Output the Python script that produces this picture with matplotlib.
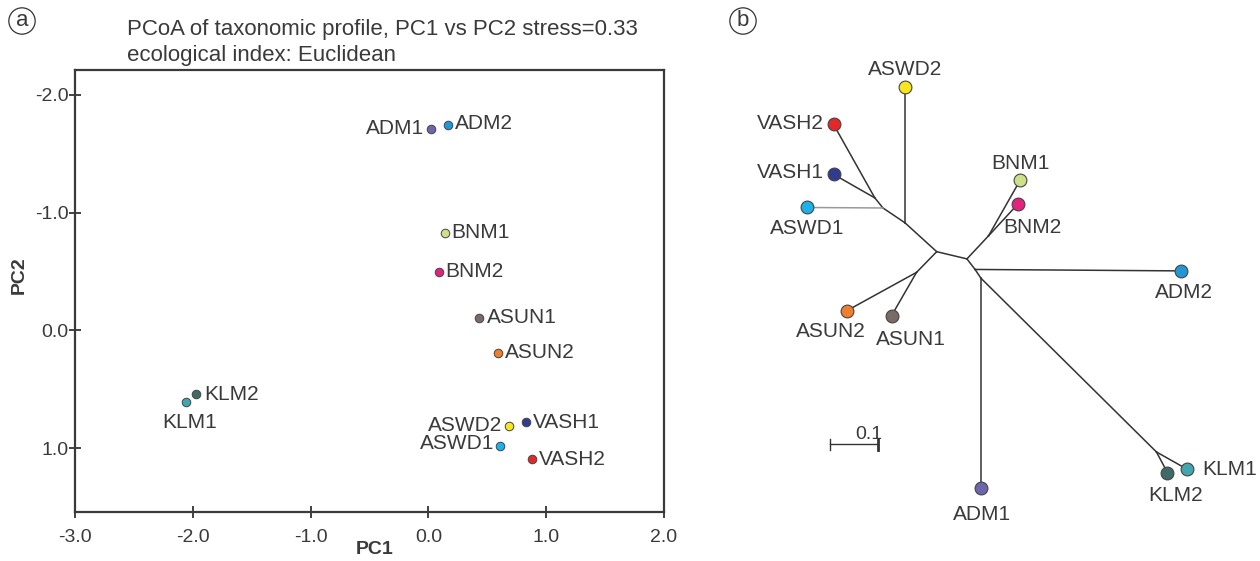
import matplotlib
matplotlib.use('Agg')
import matplotlib.pyplot as plt

plt.rcParams['font.family'] = ['Liberation Sans', 'DejaVu Sans']

# --- panel a: PCoA scores ---
samples = ['ADM1', 'ADM2', 'BNM1', 'BNM2', 'ASUN1', 'ASUN2',
           'KLM2', 'KLM1', 'ASWD2', 'VASH1', 'ASWD1', 'VASH2']
pc1 = [0.02, 0.17, 0.14, 0.09, 0.43, 0.59, -1.97, -2.06, 0.68, 0.83, 0.61, 0.88]
pc2 = [-1.71, -1.74, -0.83, -0.50, -0.11, 0.19, 0.54, 0.61, 0.81, 0.78, 0.98, 1.09]
x_ticks = [-3.0, -2.0, -1.0, 0.0, 1.0, 2.0]
y_ticks = [-2.0, -1.0, 0.0, 1.0]

colors = {
    'ADM1': '#6e66ad', 'ADM2': '#1f98d5', 'BNM1': '#cfe08a', 'BNM2': '#e2227f',
    'ASUN1': '#7b6b66', 'ASUN2': '#f07f2c', 'KLM2': '#3f6b67', 'KLM1': '#41a6ad',
    'ASWD2': '#f7e61c', 'VASH1': '#323c8e', 'ASWD1': '#1cb1e8', 'VASH2': '#e3282c',
}

# label placement (offset in pixels, alignment)
pcoa_lab = {
    'ADM1': (-7, 0, 'right'), 'ADM2': (7, 2, 'left'), 'BNM1': (6, 0, 'left'),
    'BNM2': (6, 0, 'left'), 'ASUN1': (8, 0, 'left'), 'ASUN2': (7, 0, 'left'),
    'KLM2': (8, 0, 'left'), 'KLM1': (4, -20, 'center'), 'ASWD2': (-6, 0, 'right'),
    'VASH1': (7, 0, 'left'), 'ASWD1': (-6, 2, 'right'), 'VASH2': (7, -1, 'left'),
}

# --- panel b: unrooted tree (branch-length units) ---
node_names = ['n1', 'n2', 'n3', 'n4', 'n5', 'n6', 'n7', 'n8', 'n9', 'n10',
              'ASWD2', 'VASH2', 'VASH1', 'ASWD1', 'ASUN2', 'ASUN1',
              'BNM1', 'BNM2', 'ADM2', 'ADM1', 'KLM2', 'KLM1']
node_x = [0.0, 0.063, -0.066, -0.112, -0.129, -0.042, 0.108, 0.080, 0.092, 0.458,
          -0.066, -0.215, -0.215, -0.271, -0.1875, -0.094,
          0.174, 0.169, 0.509, 0.092, 0.481, 0.522]
node_y = [0.0, -0.015, 0.060, 0.091, 0.112, -0.043, 0.033, -0.037, -0.055, -0.417,
          0.343, 0.265, 0.161, 0.092, -0.123, -0.133,
          0.149, 0.099, -0.040, -0.493, -0.460, -0.453]
node_parent = [None, 'n1', 'n1', 'n3', 'n4', 'n1', 'n2', 'n2', 'n8', 'n9',
               'n3', 'n5', 'n5', 'n4', 'n6', 'n6',
               'n7', 'n7', 'n8', 'n9', 'n10', 'n10']
scale_len = 0.1

tree_lab = {
    'ASWD2': (0, 17, 'center'), 'VASH2': (-10, 1, 'right'), 'VASH1': (-10, 2, 'right'),
    'ASWD1': (0, -21, 'center'), 'BNM1': (0, 17, 'center'), 'BNM2': (15, -23, 'center'),
    'ADM2': (3, -22, 'center'), 'ASUN2': (-16, -21, 'center'), 'ASUN1': (19, -24, 'center'),
    'ADM1': (1, -26, 'center'), 'KLM2': (8, -23, 'center'), 'KLM1': (15, 0, 'left'),
}

txt = '#3a3a3a'
fs = 15
fig = plt.figure(figsize=(12.6, 5.61), dpi=100)

# panel a
ax = fig.add_axes([75 / 1260, 1 - 512 / 561, 589 / 1260, 442 / 561])
for name, x, y in zip(samples, pc1, pc2):
    ax.scatter(x, y, s=38, color=colors[name], edgecolor='#444444', linewidth=0.7, zorder=3)
    dx, dy, ha = pcoa_lab[name]
    ax.annotate(name, (x, y), xytext=(dx, dy), textcoords='offset pixels',
                ha=ha, va='center', fontsize=fs, color=txt)
ax.set_xlim(-3.0, 2.0)
ax.set_ylim(1.54, -2.21)
ax.set_xticks(x_ticks)
ax.set_xticklabels(['%.1f' % v for v in x_ticks])
ax.set_yticks(y_ticks)
ax.set_yticklabels(['%.1f' % v for v in y_ticks])
ax.tick_params(direction='inout', length=9, width=1.3, colors='#333333',
               labelsize=14, labelcolor=txt)
ax.tick_params(axis='x', pad=8)
ax.tick_params(axis='y', pad=0)
for sp in ax.spines.values():
    sp.set_linewidth(1.6)
    sp.set_color('#3a3a3a')
ax.set_xlabel('PC1', fontsize=14, fontweight='bold', color=txt)
ax.set_ylabel('PC2', fontsize=14, fontweight='bold', color=txt)
ax.xaxis.set_label_coords(0.508, -0.066)
ax.yaxis.set_label_coords(-0.08, 0.535)

fig.text(127 / 1260, 1 - 30 / 561, 'PCoA of taxonomic profile, PC1 vs PC2 stress=0.33',
         fontsize=16, color=txt, va='center')
fig.text(127 / 1260, 1 - 55 / 561, 'ecological index: Euclidean',
         fontsize=16, color=txt, va='center')
circ = dict(boxstyle='circle,pad=0.12', fc='none', ec='#333333', lw=0.9)
fig.text(22 / 1260, 1 - 21 / 561, 'a', fontsize=16, color=txt, ha='center', va='center', bbox=circ)
fig.text(743 / 1260, 1 - 21 / 561, 'b', fontsize=16, color=txt, ha='center', va='center', bbox=circ)

# panel b
tx = fig.add_axes([740 / 1260, 0, 510 / 1260, 1])
pos = {n: (x, y) for n, x, y in zip(node_names, node_x, node_y)}
for n, p in zip(node_names, node_parent):
    if p is None:
        continue
    lc = '#9a9a9a' if n == 'ASWD1' else '#333333'
    tx.plot([pos[p][0], pos[n][0]], [pos[p][1], pos[n][1]], color=lc, lw=1.1, zorder=1)
for n in tree_lab:
    x, y = pos[n]
    tx.scatter(x, y, s=85, color=colors[n], edgecolor='#444444', linewidth=0.8, zorder=3)
    dx, dy, ha = tree_lab[n]
    tx.annotate(n, (x, y), xytext=(dx, dy), textcoords='offset pixels',
                ha=ha, va='center', fontsize=fs, color=txt)

# scale bar
sx0, sy = -0.222, -0.401
tx.plot([sx0, sx0 + scale_len], [sy, sy], color='#333333', lw=1)
tx.plot([sx0, sx0], [sy - 0.012, sy + 0.012], color='#333333', lw=1)
tx.plot([sx0 + scale_len, sx0 + scale_len], [sy - 0.012, sy + 0.012], color='#333333', lw=2)
tx.text(sx0 + scale_len - 0.02, sy + 0.002, '%.1f' % scale_len, fontsize=14,
        color=txt, ha='center', va='bottom')
tx.set_xlim(-0.410, 0.653)
tx.set_ylim(-0.644, 0.524)
tx.axis('off')

fig.savefig('out.png', dpi=100)
